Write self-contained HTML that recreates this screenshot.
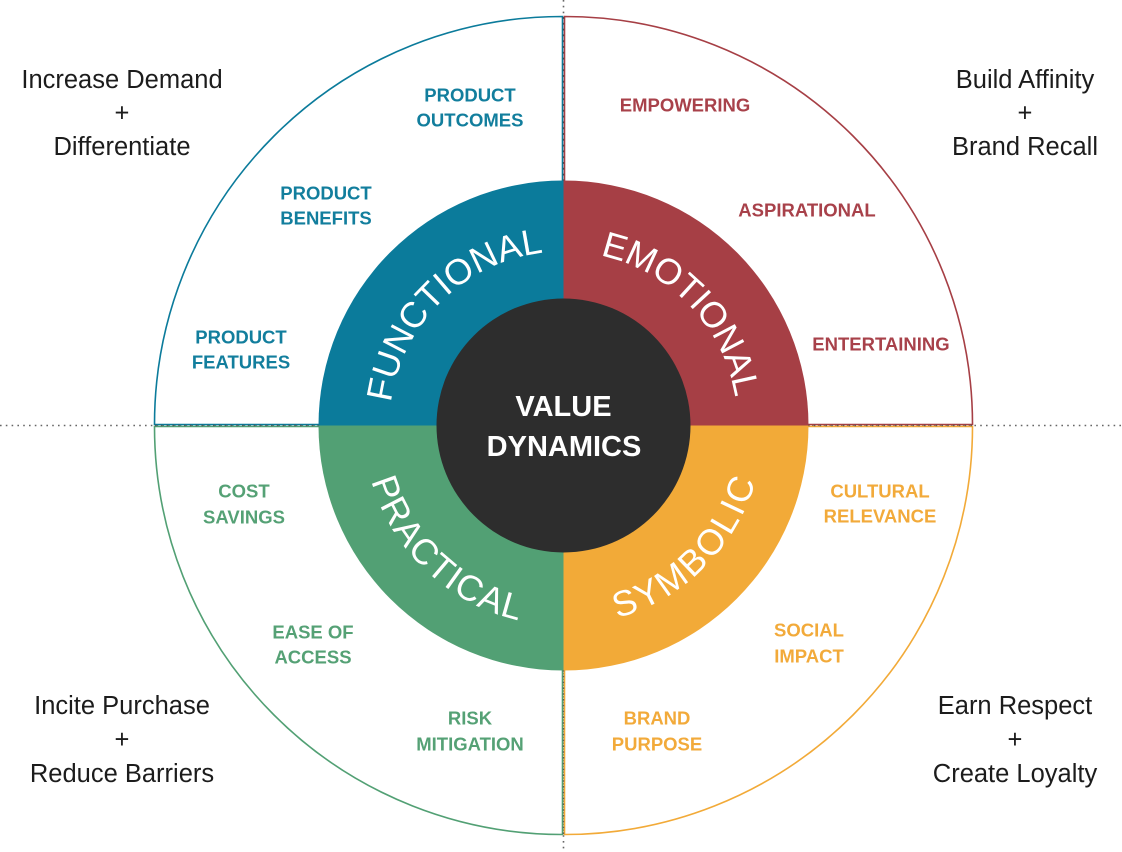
<!DOCTYPE html>
<html>
<head>
<meta charset="utf-8">
<style>
html,body{margin:0;padding:0;background:#fff;}
svg{display:block;}
.corner{font-family:"Liberation Sans",sans-serif;font-size:25.5px;fill:#1c1c1c;text-anchor:middle;}
.lbl{font-family:"Liberation Sans",sans-serif;font-size:18.5px;font-weight:bold;text-anchor:middle;}
.ring{font-family:"Liberation Sans",sans-serif;font-size:36px;fill:#fff;}
</style>
</head>
<body>
<svg width="1122" height="852" viewBox="0 0 1122 852" xmlns="http://www.w3.org/2000/svg">
  <defs>
    <path id="topArc" d="M 389.5 425.5 A 174 174 0 0 1 737.5 425.5" fill="none"/>
    <path id="botArc" d="M 363.5 425.5 A 200 200 0 0 0 763.5 425.5" fill="none"/>
  </defs>

  <!-- dotted axes -->
  <line x1="0" y1="425.5" x2="1122" y2="425.5" stroke="#666" stroke-width="1.6" stroke-dasharray="1.6 4.2"/>
  <line x1="563.5" y1="0" x2="563.5" y2="852" stroke="#666" stroke-width="1.6" stroke-dasharray="1.6 4.2"/>

  <!-- outer quadrant outlines -->
  <path d="M 562.5 424.5 L 154.5 424.5 A 408 408 0 0 1 562.5 16.5 Z" fill="none" stroke="#0b7b9b" stroke-width="1.6"/>
  <path d="M 564.5 424.5 L 564.5 16.5 A 408 408 0 0 1 972.5 424.5 Z" fill="none" stroke="#a63f45" stroke-width="1.6"/>
  <path d="M 564.5 426.5 L 972.5 426.5 A 408 408 0 0 1 564.5 834.5 Z" fill="none" stroke="#f2aa38" stroke-width="1.6"/>
  <path d="M 562.5 426.5 L 562.5 834.5 A 408 408 0 0 1 154.5 426.5 Z" fill="none" stroke="#52a074" stroke-width="1.6"/>

  <!-- dotted over the radial lines -->
  <line x1="155" y1="425.5" x2="320" y2="425.5" stroke="#444" stroke-width="1.4" stroke-dasharray="1.6 4.2" opacity="0.8"/>
  <line x1="808" y1="425.5" x2="973" y2="425.5" stroke="#444" stroke-width="1.4" stroke-dasharray="1.6 4.2" opacity="0.8"/>
  <line x1="563.5" y1="17" x2="563.5" y2="182" stroke="#444" stroke-width="1.4" stroke-dasharray="1.6 4.2" opacity="0.8"/>
  <line x1="563.5" y1="670" x2="563.5" y2="834" stroke="#444" stroke-width="1.4" stroke-dasharray="1.6 4.2" opacity="0.8"/>

  <!-- ring wedges -->
  <path d="M 563.5 425.5 L 318.5 425.5 A 245 245 0 0 1 563.5 180.5 Z" fill="#0b7b9b"/>
  <path d="M 563.5 425.5 L 563.5 180.5 A 245 245 0 0 1 808.5 425.5 Z" fill="#a63f45"/>
  <path d="M 563.5 425.5 L 808.5 425.5 A 245 245 0 0 1 563.5 670.5 Z" fill="#f2aa38"/>
  <path d="M 563.5 425.5 L 563.5 670.5 A 245 245 0 0 1 318.5 425.5 Z" fill="#52a074"/>

  <!-- center -->
  <circle cx="563.5" cy="425.5" r="127" fill="#2d2d2d"/>
  <text x="563.5" y="416" font-family="Liberation Sans, sans-serif" font-size="29" font-weight="bold" fill="#fff" text-anchor="middle">VALUE</text>
  <text x="564" y="456" font-family="Liberation Sans, sans-serif" font-size="29" font-weight="bold" fill="#fff" text-anchor="middle">DYNAMICS</text>

  <!-- ring texts -->
  <text class="ring" text-anchor="middle"><textPath href="#topArc" startOffset="138">FUNCTIONAL</textPath></text>
  <text class="ring" text-anchor="middle" letter-spacing="-0.5"><textPath href="#topArc" startOffset="414">EMOTIONAL</textPath></text>
  <text class="ring" text-anchor="middle" letter-spacing="1.3"><textPath href="#botArc" startOffset="163">PRACTICAL</textPath></text>
  <text class="ring" text-anchor="middle" letter-spacing="2.4"><textPath href="#botArc" startOffset="471">SYMBOLIC</textPath></text>

  <!-- functional labels -->
  <g class="lbl" fill="#127e9d">
    <text x="470" y="101.5">PRODUCT</text>
    <text x="470" y="126.5">OUTCOMES</text>
    <text x="326" y="199.5">PRODUCT</text>
    <text x="326" y="224.5">BENEFITS</text>
    <text x="241" y="343.5">PRODUCT</text>
    <text x="241" y="368.5">FEATURES</text>
  </g>
  <!-- emotional labels -->
  <g class="lbl" fill="#a8414a">
    <text x="685" y="111.5">EMPOWERING</text>
    <text x="807" y="216.5">ASPIRATIONAL</text>
    <text x="881" y="350.5">ENTERTAINING</text>
  </g>
  <!-- practical labels -->
  <g class="lbl" fill="#55a175">
    <text x="244" y="497.5">COST</text>
    <text x="244" y="523.5">SAVINGS</text>
    <text x="313" y="638.5">EASE OF</text>
    <text x="313" y="663.5">ACCESS</text>
    <text x="470" y="724.5">RISK</text>
    <text x="470" y="750.5">MITIGATION</text>
  </g>
  <!-- symbolic labels -->
  <g class="lbl" fill="#f2aa3a">
    <text x="880" y="497.5">CULTURAL</text>
    <text x="880" y="522.5">RELEVANCE</text>
    <text x="809" y="636.5">SOCIAL</text>
    <text x="809" y="662.5">IMPACT</text>
    <text x="657" y="724.5">BRAND</text>
    <text x="657" y="750.5">PURPOSE</text>
  </g>

  <!-- corner texts -->
  <g class="corner">
    <text x="122" y="88">Increase Demand</text>
    <text x="122" y="121.5">+</text>
    <text x="122" y="155">Differentiate</text>

    <text x="1025" y="88">Build Affinity</text>
    <text x="1025" y="121.5">+</text>
    <text x="1025" y="155">Brand Recall</text>

    <text x="122" y="714">Incite Purchase</text>
    <text x="122" y="748">+</text>
    <text x="122" y="782">Reduce Barriers</text>

    <text x="1015" y="714">Earn Respect</text>
    <text x="1015" y="748">+</text>
    <text x="1015" y="782">Create Loyalty</text>
  </g>
</svg>
</body>
</html>
